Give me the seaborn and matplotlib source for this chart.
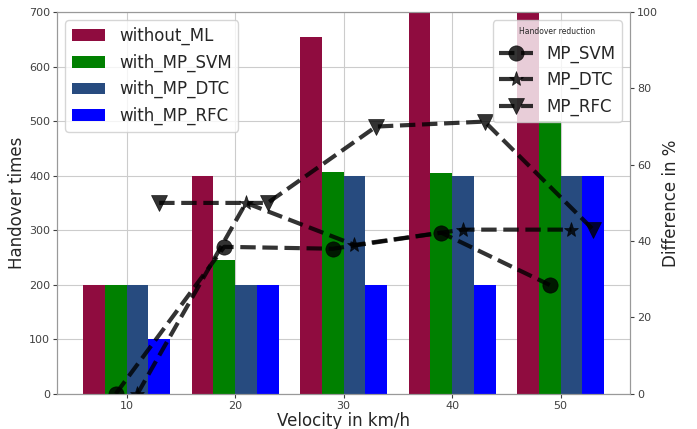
import matplotlib.pyplot as plt
import pandas as pd
import seaborn as sns

# Data
velocity = [10, 20, 30, 40, 50]
without_ml = [200, 400, 655, 750, 750]
with_mp_svm = [200, 245, 407, 404, 500]
with_mp_dtc = [200, 200, 400, 400, 400]
with_mp_rfc = [100, 200, 200, 200, 400]

red_svm = [0, 38.5, 38, 42.2, 28.5]
red_dtc = [0, 50, 39, 43, 43]
red_rfc = [50, 50, 70, 71.3, 43]

bar_names = ['without_ML', 'with_MP_SVM', 'with_MP_DTC', 'with_MP_RFC']
bar_colors = ['#8f0c3f', '#008000', '#274b7f', '#0000ff']

sns.set_style("whitegrid", {
    "xtick.bottom": True,
    "ytick.left": True,
    "ytick.right": True,
    "axes.edgecolor": ".6",
    "grid.color": ".8",
})

df = pd.DataFrame({
    'velocity': velocity,
    'without_ML': without_ml,
    'with_MP_SVM': with_mp_svm,
    'with_MP_DTC': with_mp_dtc,
    'with_MP_RFC': with_mp_rfc,
}).melt(id_vars='velocity', var_name='series', value_name='times')

fig, ax = plt.subplots(figsize=(6.97, 4.29), dpi=100)
fig.subplots_adjust(left=0.082, right=0.904, bottom=0.082, top=0.972)

sns.barplot(
    data=df,
    x='velocity',
    y='times',
    hue='series',
    hue_order=bar_names,
    palette=bar_colors,
    native_scale=True,
    saturation=1,
    errorbar=None,
    width=0.8,
    linewidth=0,
    ax=ax,
)

ax.set_xlim(3.6, 56.4)
ax.set_xticks(velocity)
ax.set_ylim(0, 700)
ax.tick_params(labelsize=8, colors='.25', length=3, pad=2)
ax.set_xlabel('Velocity in km/h', fontsize=12, labelpad=1)
ax.set_ylabel('Handover times', fontsize=12, labelpad=2)

handles, labels = ax.get_legend_handles_labels()
ax.legend(handles, labels, loc='upper left', fontsize=12)

# Handover reduction lines on the right axis
ax2 = ax.twinx()
ax2.grid(False)
line_sets = [
    ('MP_SVM', red_svm, 'o', -1, 11),
    ('MP_DTC', red_dtc, '*', 1, 11),
    ('MP_RFC', red_rfc, 'v', 3, 12),
]
for name, vals, mk, off, ms in line_sets:
    sns.lineplot(
        x=[v + off for v in velocity],
        y=vals,
        marker=mk,
        markersize=ms,
        markeredgecolor='black',
        markeredgewidth=0.5,
        linestyle='--',
        linewidth=3,
        color='black',
        alpha=0.8,
        label=name,
        ax=ax2,
    )

ax2.set_ylim(0, 100)
ax2.set_yticks([0, 20, 40, 60, 80, 100])
ax2.tick_params(labelsize=8, colors='.25', length=3, pad=2)
ax2.set_ylabel('Difference in %', fontsize=12, labelpad=3)
ax2.legend(loc='upper right', title='Handover reduction', title_fontsize=5.5,
           fontsize=12)

fig.savefig('out.png', dpi=100)
